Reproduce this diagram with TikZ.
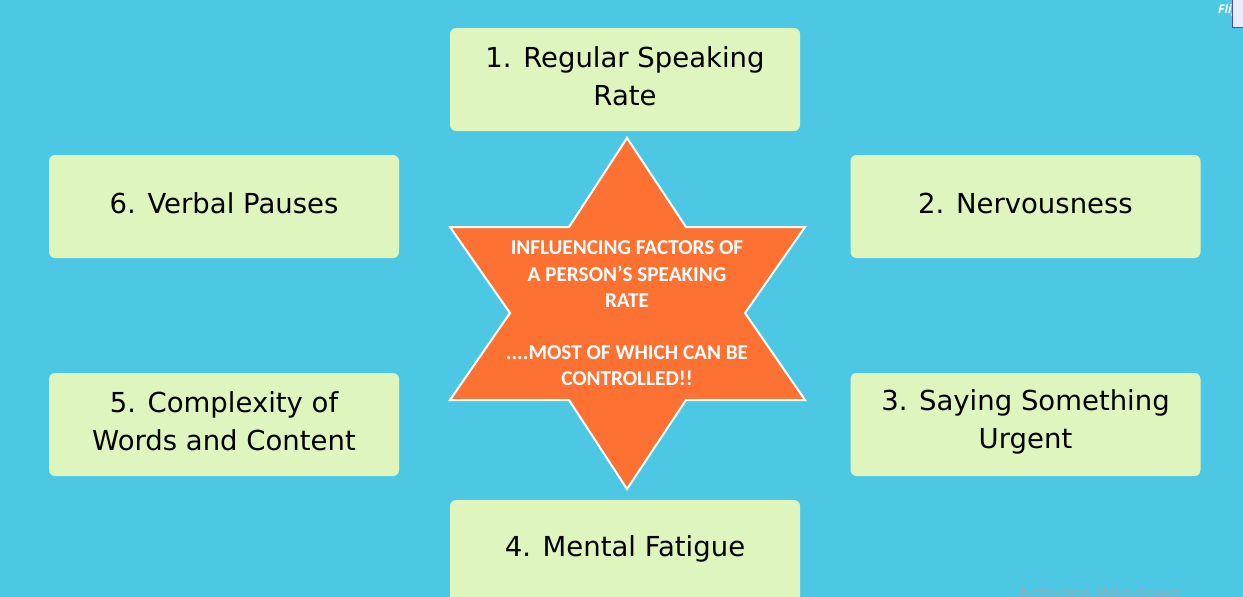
\documentclass[tikz,border=0pt]{standalone}
\usepackage{fontspec}
\setmainfont{DejaVu Sans}
\newfontfamily\boxfont{DejaVu Sans}
\newfontfamily\starfont{Carlito}
\newfontfamily\wmfont{Open Sans}
\definecolor{bg}{RGB}{77,200,228}
\definecolor{boxfill}{RGB}{222,245,190}
\definecolor{starfill}{RGB}{253,114,50}
\definecolor{wmgray}{RGB}{150,172,184}
\begin{document}
\begin{tikzpicture}[x=1pt,y=-1pt,
  factor/.style={fill=boxfill, rounded corners=6pt, minimum width=350pt, minimum height=103pt, inner sep=0pt},
  boxtext/.style={inner sep=0pt, align=center, text=black, font=\boxfont\fontsize{27.5}{38}\selectfont},
  startext/.style={inner sep=0pt, align=center, text=white, font=\starfont\bfseries\fontsize{21.2}{26.2}\selectfont}
  ]
\useasboundingbox (0,0) rectangle (1243,597);
\clip (0,0) rectangle (1243,597);
\fill[bg] (0,0) rectangle (1243,597);
% factor boxes
\node[factor] (f1) at (625,79.5) {};
\node[factor] (f2) at (1025.5,206.5) {};
\node[factor] (f3) at (1025.5,424.5) {};
\node[factor] (f4) at (625,551.5) {};
\node[factor] (f5) at (224,424.5) {};
\node[factor] (f6) at (224,206.5) {};
\node[boxtext] (t1) at ([yshift=3pt]f1.center) {1. Regular Speaking\\Rate};
\node[boxtext] (t2) at ([yshift=3pt]f2.center) {2. Nervousness};
\node[boxtext] (t3) at ([yshift=3pt]f3.center) {3. Saying Something\\Urgent};
\node[boxtext] (t4) at ([yshift=3pt]f4.center) {4. Mental Fatigue};
\node[boxtext] (t5) at ([yshift=3pt]f5.center) {5. Complexity of\\Words and Content};
\node[boxtext] (t6) at ([yshift=3pt]f6.center) {6. Verbal Pauses};
% star
\filldraw[fill=starfill, draw=white, line width=2pt, line join=miter]
  (627,138) -- (686,227) -- (805,227) -- (745,313) -- (805,400) -- (686,400) -- (627,489)
  -- (569,400) -- (450,400) -- (510,313) -- (450,227) -- (569,227) -- cycle;
\node[startext] (centre) at (627,313.5) {INFLUENCING FACTORS OF\\A PERSON’S SPEAKING\\RATE\\[26.2pt]....MOST OF WHICH CAN BE\\CONTROLLED!!};
% screen artefacts
\node[anchor=base west, inner sep=0pt, text=white, font=\wmfont\bfseries\itshape\fontsize{12}{14}\selectfont] (fli) at (1218,13) {Flip};
\filldraw[fill=blue!8!white, draw=blue!40!gray, line width=0.8pt] (1232,-2) rectangle (1250,27);
\node[anchor=base west, inner sep=0pt, text=wmgray, font=\wmfont\fontsize{20}{24}\selectfont] (wm) at (1017,601) {Activate Windows};
\end{tikzpicture}
\end{document}
